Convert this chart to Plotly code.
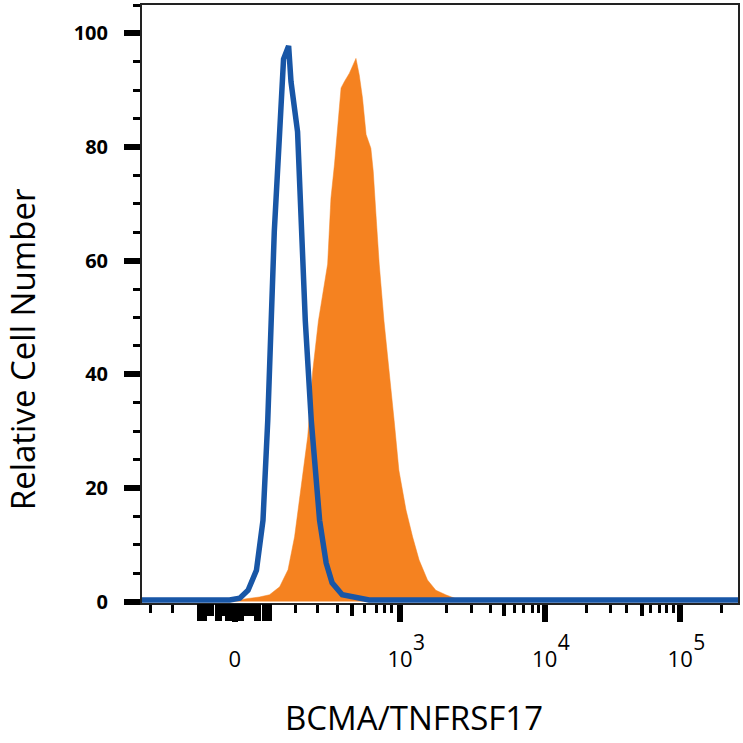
import plotly.graph_objs as go

# x values are display channels (0-1000 across the logicle axis), y is relative cell number
isotype_x = [0, 147, 164, 178, 192, 203, 211, 217, 222, 231, 237.5, 246, 250, 261, 267,
             274, 284, 298, 309, 319, 336, 353, 364, 381, 1000]
isotype_y = [0.3, 0.3, 0.6, 2.0, 5.5, 14.3, 31.9, 49.4, 65.2, 82.7, 95.5, 97.8, 91.5, 82.7, 65,
             49.4, 31.9, 14.3, 6.8, 3.3, 1.2, 0.8, 0.6, 0.3, 0.3]

bcma_x = [0, 164, 175, 197, 214, 231, 245, 256, 267, 278, 286.5, 296, 311.5, 317, 323, 328,
          334, 339.5, 348, 359, 364.5, 370, 376, 384, 388, 392.5, 398, 406, 415, 423, 431,
          443, 454, 465, 479, 493, 509.5, 520, 532, 548, 1000]
bcma_y = [0, 0.3, 0.5, 0.8, 1.2, 2.6, 5.6, 11.4, 20.2, 29, 40.6, 49.4, 59.4, 71, 77, 82.8,
          90.4, 91.5, 93, 95.6, 92.7, 88.6, 82.2, 79.8, 75.7, 68.2, 59.4, 49.4, 40.6, 31.9, 23.1,
          16.1, 11.4, 7.3, 3.8, 2.0, 1.2, 0.8, 0.3, 0, 0]

# axis ticks (display channels)
label_ticks = [155.5, 433, 675.6, 903]
label_text = ["0", "10", "10", "10"]
exp_ticks = [433, 675.6, 903]
exp_text = ["3", "4", "5"]
short_ticks = [14.5, 51.8, 257.5, 294.3, 327.7, 372.9, 393, 406.4, 418.1, 511.7, 553.5, 585.3,
               625.4, 640.5, 655.5, 665.6, 745.9, 786, 812.8, 852.9, 868, 879.7, 891.4, 971.6]
medium_ticks = [112, 117.1, 137.1, 173.9, 180.6, 185.6, 352.8, 607, 839.5]
zero_ticks = [95.3, 100.3, 105.3, 125.4, 130.4, 142.1, 147.2, 152.2, 157.2, 162.2, 167.2,
              190.6, 195.6, 204, 209, 214]

y_major = [0, 20, 40, 60, 80, 100]
y_minor = [5, 10, 15, 25, 30, 35, 45, 50, 55, 65, 70, 75, 85, 90, 95, 105]

orange = 'rgb(245,130,32)'
blue = 'rgb(24,86,166)'
font = "Open Sans"

fig = go.Figure()
fig.add_trace(go.Scatter(x=bcma_x, y=bcma_y, mode='lines', fill='tozeroy',
                         fillcolor=orange, line=dict(color=orange, width=0.5),
                         hoverinfo='skip', showlegend=False))
fig.add_trace(go.Scatter(x=isotype_x, y=isotype_y, mode='lines', xaxis='x2',
                         line=dict(color=blue, width=5.5), hoverinfo='skip', showlegend=False))
# empty trace so the exponent axis gets drawn
fig.add_trace(go.Scatter(x=[], y=[], xaxis='x3', hoverinfo='skip', showlegend=False))

fig.update_layout(
    width=743, height=743,
    margin=dict(l=142, r=3, t=3, b=140),
    paper_bgcolor='white', plot_bgcolor='white',
    showlegend=False,
    xaxis=dict(range=[0, 1000], showgrid=False, zeroline=False,
               showline=True, mirror=True, linecolor='#222', linewidth=2,
               tickmode='array', tickvals=label_ticks, ticktext=label_text,
               ticks='outside', ticklen=17, tickwidth=6, tickcolor='black',
               ticklabelstandoff=19,
               tickfont=dict(family=font, size=22, color='black'),
               minor=dict(tickmode='array', tickvals=short_ticks, ticks='outside',
                          ticklen=8, tickwidth=3, tickcolor='black', showgrid=False)),
    xaxis2=dict(range=[0, 1000], overlaying='x', anchor='y', side='bottom',
                showgrid=False, zeroline=False, showline=False,
                tickmode='array', tickvals=zero_ticks, ticktext=[''] * len(zero_ticks),
                ticks='outside', ticklen=17, tickwidth=4, tickcolor='black',
                minor=dict(tickmode='array', tickvals=medium_ticks, ticks='outside',
                           ticklen=12, tickwidth=4, tickcolor='black', showgrid=False)),
    xaxis3=dict(range=[0, 1000], overlaying='x', anchor='y', side='bottom',
                showgrid=False, zeroline=False, showline=False, ticks='',
                tickmode='array', tickvals=exp_ticks, ticktext=exp_text,
                ticklabelshift=19, ticklabelstandoff=25,
                tickfont=dict(family=font, size=21, color='black')),
    yaxis=dict(range=[-0.25, 105], showgrid=False, zeroline=False,
               showline=True, mirror=True, linecolor='#222', linewidth=2,
               tickmode='array', tickvals=y_major,
               ticks='outside', ticklen=16, tickwidth=6, tickcolor='black',
               ticklabelstandoff=12,
               tickfont=dict(family=font, size=20, color='black', weight='bold'),
               minor=dict(tickmode='array', tickvals=y_minor,
                          ticks='outside', ticklen=7, tickwidth=3, tickcolor='black',
                          showgrid=False)),
    annotations=[
        dict(text="Relative Cell Number", xref='paper', yref='paper', x=-0.2007, y=0.425,
             xanchor='center', yanchor='middle', textangle=-90, showarrow=False,
             font=dict(family=font, size=33, color='black')),
        dict(text="BCMA/TNFRSF17", xref='paper', yref='paper', x=0.4565, y=-0.1917,
             xanchor='center', yanchor='middle', showarrow=False,
             font=dict(family=font, size=33, color='black')),
    ],
)

fig.write_html("out.html", config={'displayModeBar': False},
               post_script="document.body.style.margin='0';")
